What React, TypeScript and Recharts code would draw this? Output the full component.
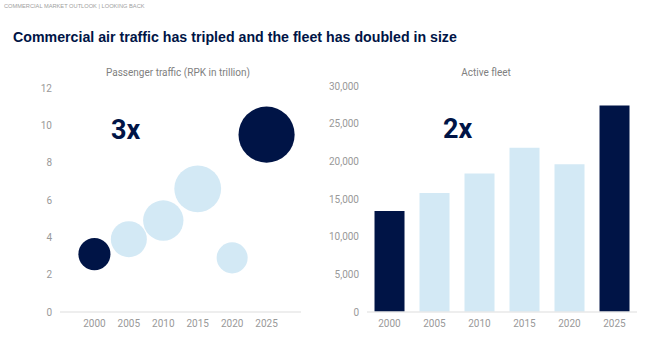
import React from "react";
import {
  ScatterChart,
  Scatter,
  BarChart,
  Bar,
  XAxis,
  YAxis,
  ZAxis,
  Cell,
} from "recharts";

const years = [2000, 2005, 2010, 2015, 2020, 2025];
const rpk = [3.1, 3.9, 4.9, 6.6, 2.9, 9.5];
const fleet = [13400, 15800, 18400, 21800, 19600, 27400];
const highlight = [true, false, false, false, false, true];
const rpkTicks = [0, 2, 4, 6, 8, 10, 12];
const fleetTicks = [0, 5000, 10000, 15000, 20000, 25000, 30000];

const DARK = "#001446";
const LIGHT = "#d3e9f5";
const GRAY = "#999999";
const FONT = "Roboto, 'Liberation Sans', Arial, sans-serif";

const rpkData = years.map((y, i) => ({ year: y, rpk: rpk[i], hi: highlight[i] }));
const fleetData = years.map((y, i) => ({ year: String(y), fleet: fleet[i], hi: highlight[i] }));

const tickStyle = { fill: GRAY, fontSize: 10, fontFamily: FONT };

export default function App() {
  return (
    <div
      style={{
        position: "absolute",
        left: 0,
        top: 0,
        width: 665,
        height: 344,
        background: "#ffffff",
        overflow: "hidden",
        fontFamily: FONT,
      }}
    >
      <div
        style={{
          position: "absolute",
          left: 4,
          top: 3,
          fontSize: 5.7,
          lineHeight: "7px",
          color: "#a0a0a0",
          fontFamily: "'Liberation Sans', Arial, sans-serif",
          whiteSpace: "nowrap",
        }}
      >
        COMMERCIAL MARKET OUTLOOK | LOOKING BACK
      </div>
      <div
        style={{
          position: "absolute",
          left: 13,
          top: 28,
          fontSize: 14.2,
          lineHeight: "18px",
          fontWeight: "bold",
          color: DARK,
          fontFamily: "'Liberation Sans', Arial, sans-serif",
          whiteSpace: "nowrap",
        }}
      >
        Commercial air traffic has tripled and the fleet has doubled in size
      </div>

      <div
        style={{
          position: "absolute",
          left: 0,
          width: 356,
          top: 66,
          textAlign: "center",
          fontSize: 10,
          lineHeight: "14px",
          color: "#808080",
          whiteSpace: "nowrap",
        }}
      >
        Passenger traffic (RPK in trillion)
      </div>
      <div
        style={{
          position: "absolute",
          left: 320,
          width: 332,
          top: 66,
          textAlign: "center",
          fontSize: 10,
          lineHeight: "14px",
          color: "#808080",
          whiteSpace: "nowrap",
        }}
      >
        Active fleet
      </div>

      <div style={{ position: "absolute", left: 0, top: 60 }}>
        <ScatterChart
          width={320}
          height={284}
          margin={{ top: 28, right: 19, left: 0, bottom: 2 }}
        >
          <XAxis
            type="number"
            dataKey="year"
            domain={[1995, 2030]}
            ticks={years}
            allowDataOverflow
            tickLine={false}
            axisLine={{ stroke: "#e8e8e8", strokeWidth: 1.5 }}
            tick={tickStyle}
            height={30}
          />
          <YAxis
            type="number"
            dataKey="rpk"
            domain={[0, 12]}
            ticks={rpkTicks}
            tickLine={false}
            axisLine={false}
            tick={tickStyle}
            width={60}
          />
          <ZAxis type="number" dataKey="rpk" domain={[0, 10]} range={[0, 2608]} />
          <Scatter data={rpkData} isAnimationActive={false}>
            {rpkData.map((d, i) => (
              <Cell key={i} fill={d.hi ? DARK : LIGHT} />
            ))}
          </Scatter>
        </ScatterChart>
      </div>

      <div style={{ position: "absolute", left: 320, top: 60 }}>
        <BarChart
          width={345}
          height={284}
          data={fleetData}
          margin={{ top: 26, right: 28, left: 0, bottom: 2 }}
          barCategoryGap="16.7%"
        >
          <XAxis
            dataKey="year"
            tickLine={false}
            axisLine={{ stroke: "#e8e8e8", strokeWidth: 1.5 }}
            tick={tickStyle}
            height={30}
          />
          <YAxis
            type="number"
            domain={[0, 30000]}
            ticks={fleetTicks}
            tickFormatter={(v: number) => v.toLocaleString("en-US")}
            tickLine={false}
            axisLine={false}
            tick={tickStyle}
            width={47}
          />
          <Bar dataKey="fleet" isAnimationActive={false}>
            {fleetData.map((d, i) => (
              <Cell key={i} fill={d.hi ? DARK : LIGHT} />
            ))}
          </Bar>
        </BarChart>
      </div>

      <div
        style={{
          position: "absolute",
          left: 111,
          top: 114,
          fontSize: 27,
          fontWeight: "bold",
          color: DARK,
          fontFamily: FONT,
        }}
      >
        3x
      </div>
      <div
        style={{
          position: "absolute",
          left: 443,
          top: 113,
          fontSize: 27,
          fontWeight: "bold",
          color: DARK,
          fontFamily: FONT,
        }}
      >
        2x
      </div>
    </div>
  );
}
